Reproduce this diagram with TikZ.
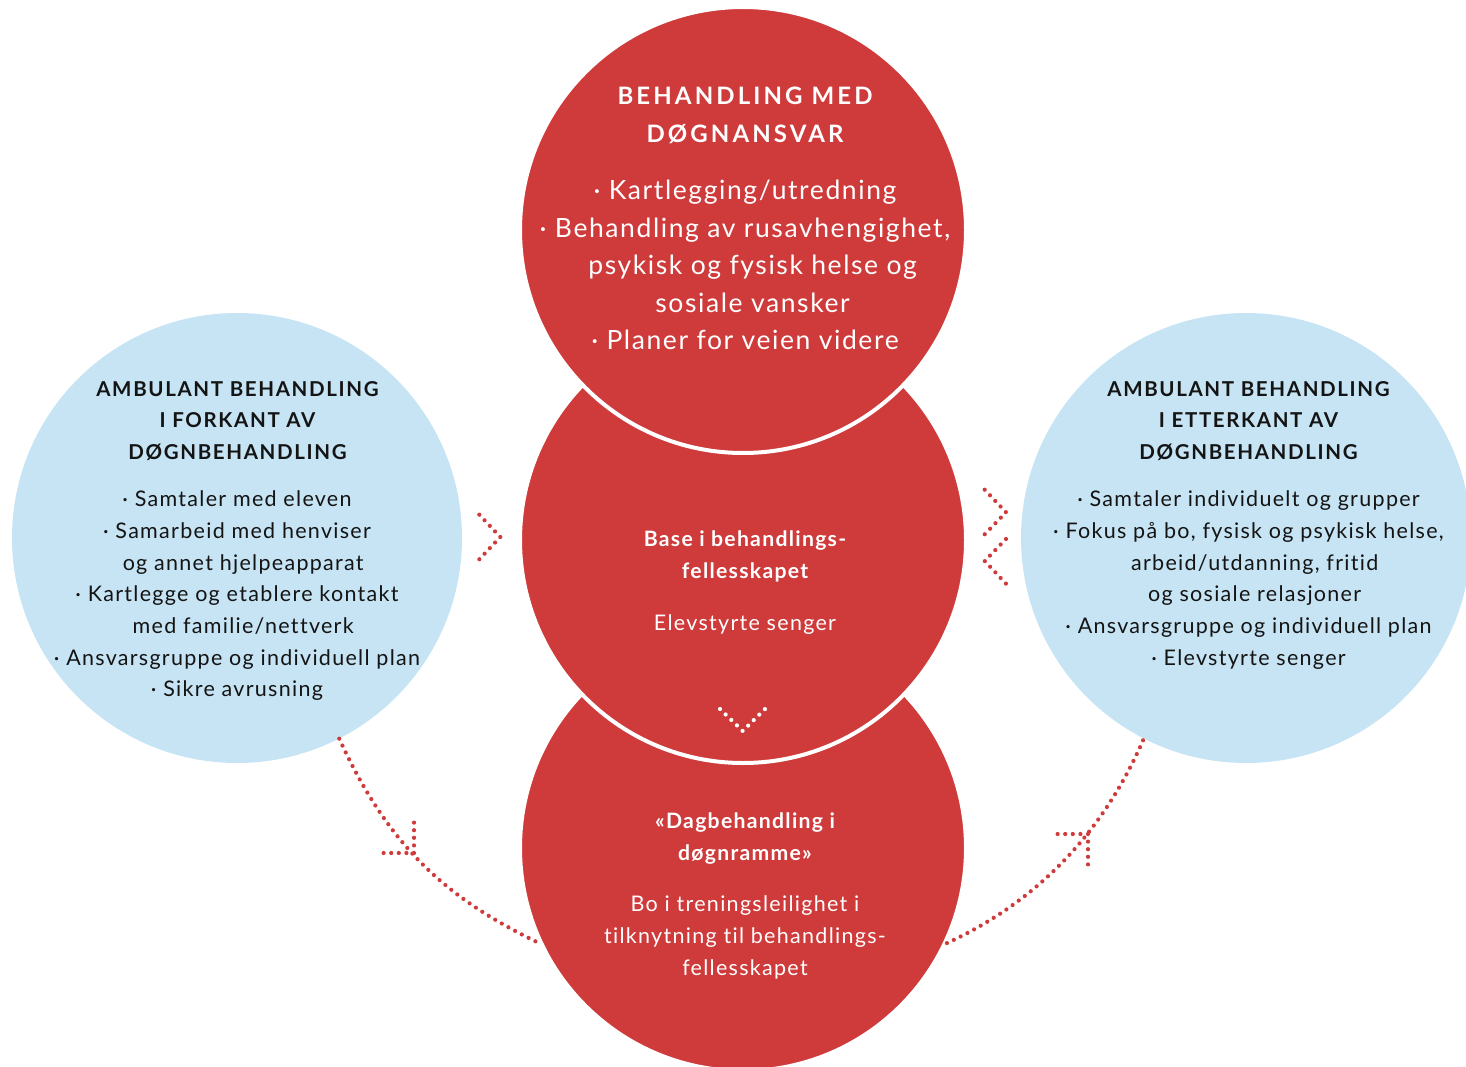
\documentclass[tikz,border=0pt]{standalone}
\usepackage{fontspec}
\setmainfont{Lato}[Ligatures={NoCommon}]
\usetikzlibrary{calc}
\definecolor{cred}{RGB}{207,58,59}
\definecolor{cblue}{RGB}{198,228,244}
\definecolor{ink}{RGB}{20,20,20}
\newcommand{\bul}{·\ }
\newcommand{\ind}{\hphantom{·\ }}
\newcommand{\blk}[4]{\parbox[t]{480pt}{\centering\fontsize{#1}{#2}\selectfont\addfontfeatures{LetterSpace=#3}#4\par}}
\tikzset{
  redc/.style={circle, fill=cred, draw=white, line width=4pt, minimum size=446pt, inner sep=0pt},
  bluec/.style={circle, fill=cblue, minimum size=450pt, inner sep=0pt},
  dotline/.style={draw=cred, line width=4.2pt, line cap=round, dash pattern=on 0pt off 7.6pt},
  chev/.style={dotline, dash pattern=on 0pt off #1},
  wchev/.style={chev=#1, draw=white},
  txt/.style={anchor=base, inner sep=0pt, align=center},
  wtxt/.style={txt, text=white},
  btxt/.style={txt, text=ink}
}
\begin{document}
\begin{tikzpicture}[x=1pt,y=-1pt]
\useasboundingbox (0,0) rectangle (1466,1067);
\clip (0,0) rectangle (1466,1067);
% blue circles
\node[bluec] (L) at (237,538) {};
\node[bluec] (R) at (1246,538) {};
% red circles
\node[redc] (B) at (743,848) {};
\node[redc] (M) at (743,540) {};
\node[redc] (T) at (743,230) {};
% curved dotted arrows
\draw[dotline] (L.-63) .. controls (390,850) and (450,900) .. (B.205);
\draw[dotline] (B.-25) .. controls (1030,905) and (1100,840) .. (R.243);
\coordinate (LA) at (414,853);
\coordinate (RA) at (1088,834);
\draw[dotline] ($(LA)+(0,-30.4)$) -- (LA) -- ($(LA)+(-30.4,0)$);
\draw[dotline] ($(RA)+(-30.4,0)$) -- (RA) -- ($(RA)+(0,30.4)$);
% chevrons
\coordinate (c1a) at (479.3,514.7);
\coordinate (c1b) at (500.3,537);
\coordinate (c1c) at (479.3,559.3);
\draw[chev=7.65pt] (c1a) -- (c1b) -- (c1c);
\coordinate (c2a) at (984.7,489.7);
\coordinate (c2b) at (1006,512.3);
\coordinate (c2c) at (984.7,534.3);
\draw[chev=7.7pt] (c2a) -- (c2b) -- (c2c);
\coordinate (c3a) at (1006,539);
\coordinate (c3b) at (984.7,561);
\coordinate (c3c) at (1006,583.7);
\draw[chev=7.7pt] (c3a) -- (c3b) -- (c3c);
\coordinate (c4a) at (720,709);
\coordinate (c4b) at (742.7,731);
\coordinate (c4c) at (765,709);
\draw[wchev=7.85pt] (c4a) -- (c4b) -- (c4c);
% texts: top
\node[wtxt] (Tt) at (745,105) {\bfseries\blk{24}{38}{13}{BEHANDLING MED\\DØGNANSVAR}};
\node[wtxt] (Tb) at (745,200) {\blk{26.5}{37.5}{6}{\bul Kartlegging/utredning\\
\bul Behandling av rusavhengighet,\\
\ind psykisk og fysisk helse og\\
\ind sosiale vansker\\
\bul Planer for veien videre}};
% left
\node[btxt] (Lt) at (237.5,396) {\bfseries\blk{20.5}{31.5}{8}{AMBULANT BEHANDLING\\I FORKANT AV\\DØGNBEHANDLING}};
\node[btxt] (Lb) at (237,506.7) {\blk{21.5}{31.7}{6}{\bul Samtaler med eleven\\
\bul Samarbeid med henviser\\
\ind og annet hjelpeapparat\\
\bul Kartlegge og etablere kontakt\\
\ind med familie/nettverk\\
\bul Ansvarsgruppe og individuell plan\\
\bul Sikre avrusning}};
% right
\node[btxt] (Rt) at (1248.5,396) {\bfseries\blk{20.5}{31.5}{8}{AMBULANT BEHANDLING\\I ETTERKANT AV\\DØGNBEHANDLING}};
\node[btxt] (Rb) at (1248.5,506.7) {\blk{21.5}{31.7}{6}{\bul Samtaler individuelt og grupper\\
\bul Fokus på bo, fysisk og psykisk helse,\\
\ind arbeid/utdanning, fritid\\
\ind og sosiale relasjoner\\
\bul Ansvarsgruppe og individuell plan\\
\bul Elevstyrte senger}};
% middle
\node[wtxt] (Mt) at (745,546.7) {\bfseries\blk{21.2}{32}{6}{Base i behandlings-\\fellesskapet}};
\node[wtxt] (Mb) at (745,630) {\blk{21.5}{32}{6}{Elevstyrte senger}};
% bottom
\node[wtxt] (Bt) at (745,828.3) {\bfseries\blk{21.2}{32}{6}{«Dagbehandling i\\døgnramme»}};
\node[wtxt] (Bb) at (745,911.7) {\blk{21.5}{31.7}{6}{Bo i treningsleilighet i\\
tilknytning til behandlings-\\
fellesskapet}};
\end{tikzpicture}
\end{document}
